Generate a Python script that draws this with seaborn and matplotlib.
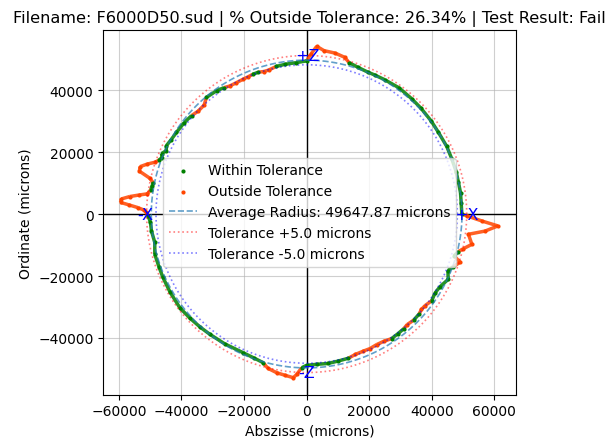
import numpy as np
import pandas as pd
import matplotlib
matplotlib.use("Agg")
import matplotlib.pyplot as plt
from matplotlib.collections import LineCollection
import seaborn as sns

FILENAME = "F6000D50.sud"
PCT_OUTSIDE = 26.34
TEST_RESULT = "Fail"
AVG_RADIUS = 49647.87
TOL_MICRONS = 5.0
TOL_DRAW = 1500  # offset of the tolerance rings as drawn

# measured profile: polar angle (deg) and radius (microns)
angles_deg = [
    0, 4, 8, 12, 16, 21, 26, 32, 37, 43, 48, 54, 60, 64, 67, 71, 74.5,
    76.5, 80, 84, 86.6, 88.5,
    90, 94, 98, 101.5, 104.7, 106.5, 108.7, 111, 113, 115, 118, 120.7,
    123, 125.9, 130.4, 133, 136.2, 139.2, 143, 147.7, 151, 153.8, 155.5,
    157.2, 158.5, 159.8,
    161, 162.5, 164, 165.5, 167, 168.3, 169.5, 171,
    172.7, 173.5, 174.3, 175.3, 176.4, 177, 177.8, 178.6, 179.3,
    180.6, 183, 186.3, 190.7, 195, 200, 204, 210, 216.7, 222, 227, 231.4,
    238, 245.6, 250, 253.9,
    256, 259.4, 262.5, 265.4, 266.5,
    268.2, 270, 274, 278, 282, 286, 289, 292, 295, 298, 301, 304, 307,
    310, 312, 315, 318, 320, 322, 325, 328, 331, 335, 338, 340, 342.4,
    344, 346,
    347.4, 349.5, 352.8, 354.5, 356.4, 357.7, 359.3,
]
radii = [
    49600, 49500, 49650, 49570, 49700, 49680, 49800, 49670, 49850, 50000,
    50100, 50290, 50000, 49850, 49780, 50100, 50700,
    52000, 52700, 53000, 54200, 51600,
    49400, 48950, 48800, 48600, 48000, 47950, 48300, 48250, 48050, 48000,
    47950, 48050,
    48600, 49100, 49400, 48050, 48000, 48580, 49000, 49240, 49500, 49950,
    49300, 50300, 49700, 50300,
    51300, 53500, 55400, 55200, 51500, 50100, 50200, 50400,
    51300, 54000, 56800, 59400, 59600, 57000, 54000, 52000, 51250,
    50690, 50000, 49900, 49390, 50250, 50180, 50280, 50400, 50570, 50200,
    49900, 49630, 49400, 49130, 49400, 49940,
    51300, 52090, 52500, 52980, 51810,
    49610, 48800, 48600, 48700, 48500, 48400, 47900, 47800, 47900, 47700,
    47900, 48500, 48400, 48300, 48000, 48400, 48300, 47900, 48000, 48800,
    48300, 48600, 49900, 48700, 49800, 51450, 49000, 50000,
    51300, 53700, 52120, 57320, 61240, 56050, 51300,
]

axis_tags = ["+X", "+Z", "-X", "-Z"]
tag_x = [51000, 300, -51700, -150]
tag_y = [0, 51300, 0, -51000]

plt.rcParams["font.size"] = 10

theta = np.deg2rad(angles_deg)
r = np.array(radii, dtype=float)
df = pd.DataFrame({"x": r * np.cos(theta), "y": r * np.sin(theta)})
df["outside"] = np.abs(r - AVG_RADIUS) > TOL_DRAW

fig = plt.figure(figsize=(6.11, 4.39), dpi=100)
ax = fig.add_axes([0.169, 0.0986, 0.675, 0.831])

# connect neighbouring samples so the outline reads as a closed band
pts = df[["x", "y"]].to_numpy()
segs = np.stack([pts, np.roll(pts, -1, axis=0)], axis=1)
bad = df["outside"].to_numpy() | np.roll(df["outside"].to_numpy(), -1)
seg_colors = np.where(bad, "orangered", "green")
ax.add_collection(LineCollection(segs, colors=seg_colors, linewidths=2.5,
                                 alpha=0.85, zorder=2))

sns.scatterplot(data=df[~df["outside"]], x="x", y="y", color="green", s=9,
                linewidth=0, label="Within Tolerance", ax=ax, zorder=3)
sns.scatterplot(data=df[df["outside"]], x="x", y="y", color="orangered", s=9,
                linewidth=0, label="Outside Tolerance", ax=ax, zorder=3)

ring = np.linspace(0, 2 * np.pi, 400)
ax.plot(AVG_RADIUS * np.cos(ring), AVG_RADIUS * np.sin(ring), "--",
        color="#1f77b4", alpha=0.7, lw=1.2, zorder=4,
        label=f"Average Radius: {AVG_RADIUS:.2f} microns")
ax.plot((AVG_RADIUS + TOL_DRAW) * np.cos(ring), (AVG_RADIUS + TOL_DRAW) * np.sin(ring),
        ":", color="red", alpha=0.5, lw=1.2, zorder=4,
        label=f"Tolerance +{TOL_MICRONS} microns")
ax.plot((AVG_RADIUS - TOL_DRAW) * np.cos(ring), (AVG_RADIUS - TOL_DRAW) * np.sin(ring),
        ":", color="blue", alpha=0.5, lw=1.2, zorder=4,
        label=f"Tolerance -{TOL_MICRONS} microns")

ax.axhline(0, color="black", lw=1, zorder=1)
ax.axvline(0, color="black", lw=1, zorder=1)

for tag, tx, ty in zip(axis_tags, tag_x, tag_y):
    ax.text(tx, ty, tag, color="blue", fontsize=11.5, ha="center", va="center", zorder=5)

ax.set_xlim(-65000, 66800)
ax.set_ylim(-58300, 59400)
ax.set_xticks([-60000, -40000, -20000, 0, 20000, 40000, 60000])
ax.set_yticks([-40000, -20000, 0, 20000, 40000])
ax.grid(True, alpha=0.6)
ax.set_axisbelow(True)
ax.set_xlabel("Abszisse (microns)")
ax.set_ylabel("Ordinate (microns)")
ax.set_title(f"Filename: {FILENAME} | % Outside Tolerance: {PCT_OUTSIDE}% | Test Result: {TEST_RESULT}",
             fontsize=11.6)
ax.legend(loc="center")

fig.savefig("out.png", dpi=100)
